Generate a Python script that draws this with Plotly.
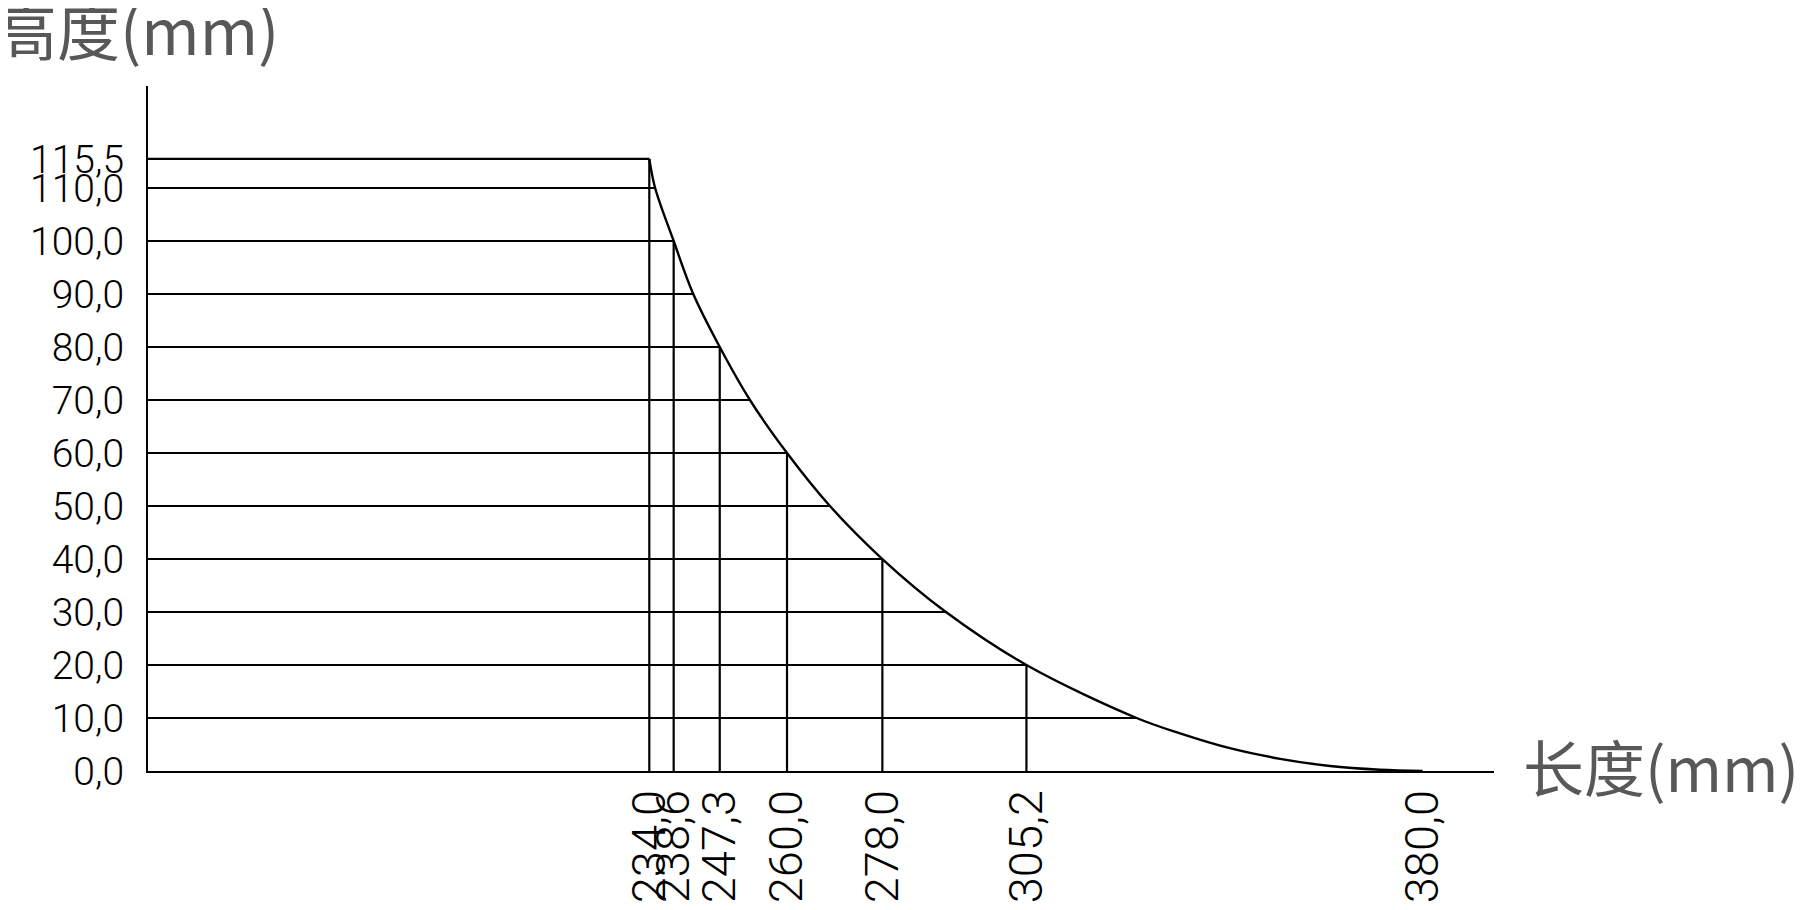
import plotly.graph_objects as go

# ---- data ----
# height levels (mm) and the length where the curve crosses each level
heights = [115.5, 110.0, 100.0, 90.0, 80.0, 70.0, 60.0, 50.0, 40.0, 30.0, 20.0, 10.0, 0.0]
curve_x_at_height = [234.0, 235.1, 238.6, 242.3, 247.3, 253.0, 260.0, 268.1, 278.0, 290.0, 305.2, 326.0, 380.0]
y_tick_text = ["115,5", "110,0", "100,0", "90,0", "80,0", "70,0", "60,0", "50,0",
               "40,0", "30,0", "20,0", "10,0", "0,0"]

# extra curve points read on the flat tail
tail_x = [334.2, 343.6, 353.1, 362.5, 371.9]
tail_y = [7.1, 4.3, 2.3, 0.95, 0.25]

# labelled lengths (mm) with their curve heights (vertical lines)
length_marks = [234.0, 238.6, 247.3, 260.0, 278.0, 305.2, 380.0]
length_heights = [115.5, 100.0, 80.0, 60.0, 40.0, 20.0, 0.0]
x_tick_text = ["234,0", "238,6", "247,3", "260,0", "278,0", "305,2", "380,0"]

# drawing origin / axis extents
x_origin = 139.36
x_end = 393.47
y_top = 129.25

x_title = "长度(mm)"
y_title = "高度(mm)"

# ---- build curve points (sorted by x) ----
pts = sorted(list(zip(curve_x_at_height, heights)) + list(zip(tail_x, tail_y)))
cx = [p[0] for p in pts]
cy = [p[1] for p in pts]

# horizontal lines from the axis to the curve
hx, hy = [], []
for h, xc in zip(heights, curve_x_at_height):
    if h == 0:
        continue
    hx += [x_origin, xc, None]
    hy += [h, h, None]

# vertical lines from the base to the curve
vx, vy = [], []
for xm, hm in zip(length_marks, length_heights):
    if hm == 0:
        continue
    vx += [xm, xm, None]
    vy += [0, hm, None]

line_style = dict(color="black", width=2.2)

fig = go.Figure()
fig.add_trace(go.Scatter(x=hx, y=hy, mode="lines", line=line_style, hoverinfo="skip"))
fig.add_trace(go.Scatter(x=vx, y=vy, mode="lines", line=line_style, hoverinfo="skip"))
fig.add_trace(go.Scatter(x=cx, y=cy, mode="lines",
                         line=dict(color="black", width=2.4, shape="spline", smoothing=1.0)))

# page body has an 8px margin: the figure starts at (8, 8) in the window
OFF = 8
W, H = 1802 - OFF, 910 - 2 * OFF
L = 148 - OFF
T = 86 - OFF
R = W - (1494 - OFF)
B = H - (771 - OFF)
plot_w = W - L - R
plot_h = H - T - B

fig.update_layout(
    width=W, height=H,
    margin=dict(l=L, r=R, t=T, b=B, pad=0, autoexpand=False),
    paper_bgcolor="white", plot_bgcolor="white",
    showlegend=False,
    xaxis=dict(
        range=[x_origin, x_end], showgrid=False, zeroline=False, automargin=False,
        showline=True, linecolor="black", linewidth=2.2,
        tickmode="array", tickvals=length_marks, ticktext=x_tick_text,
        tickangle=-90, ticks="", ticklabelstandoff=-2,
        tickfont=dict(family="Roboto", size=47, color="black", weight=300),
    ),
    yaxis=dict(
        range=[0, y_top], showgrid=False, zeroline=False, automargin=False,
        showline=True, linecolor="black", linewidth=2.2,
        tickmode="array", tickvals=heights, ticktext=y_tick_text,
        ticks="", ticklabelstandoff=14,
        tickfont=dict(family="Roboto", size=39, color="black", weight=300),
    ),
    annotations=[
        dict(text=y_title, xref="paper", yref="paper",
             x=(-16 - L) / plot_w, y=(H - B - (28 - OFF)) / plot_h,
             xanchor="left", yanchor="middle", showarrow=False,
             font=dict(family="Noto Sans CJK SC", size=63, color="#585858")),
        dict(text=x_title, xref="paper", yref="paper",
             x=(1521 - OFF - L) / plot_w, y=0,
             xanchor="left", yanchor="middle", showarrow=False, yshift=6,
             font=dict(family="Noto Sans CJK SC", size=61, color="#585858")),
    ],
)

fig.write_html("out.html")
